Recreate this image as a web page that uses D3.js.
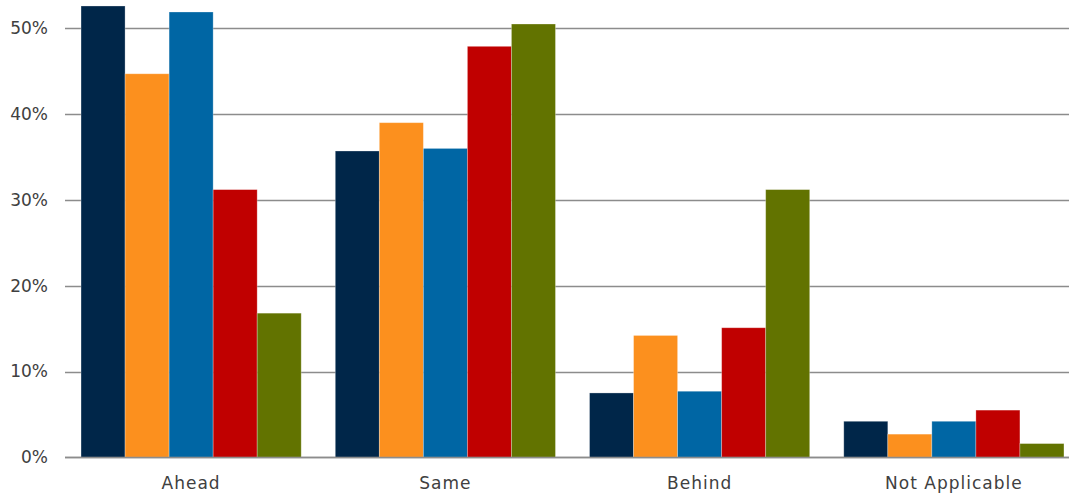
<!DOCTYPE html>
<html>
<head>
<meta charset="utf-8">
<script src="https://cdn.jsdelivr.net/npm/d3@7"></script>
<style>
  html, body { margin: 0; padding: 0; background: #fff; }
  svg { display: block; }
  text { font-family: "DejaVu Sans", sans-serif; }
</style>
</head>
<body>
<svg id="chart" width="1069" height="496"></svg>
<script>
const categories = ["Ahead", "Same", "Behind", "Not Applicable"];
const seriesNames = ["S1", "S2", "S3", "S4", "S5"];
const seriesColors = ["#002649", "#FC901E", "#0066A4", "#C00000", "#627300"];
const s1 = [52.6, 35.7, 7.5, 4.2];
const s2 = [44.7, 39.0, 14.2, 2.7];
const s3 = [51.9, 36.0, 7.7, 4.2];
const s4 = [31.2, 47.9, 15.1, 5.5];
const s5 = [16.8, 50.5, 31.2, 1.6];
const seriesValues = [s1, s2, s3, s4, s5];
const yTicks = [0, 10, 20, 30, 40, 50];

const svg = d3.select("#chart");
const W = 1069, H = 496;
const y0 = 457.3, y50 = 28.3;

const x0 = d3.scaleBand().domain(categories).range([64, 1081]).paddingInner(0.134).paddingOuter(0.067);
const x1 = d3.scaleBand().domain(seriesNames).range([0, x0.bandwidth()]).padding(0);
const y = d3.scaleLinear().domain([0, 50]).range([y0, y50]);

// gridlines
svg.append("g").selectAll("line").data(yTicks).join("line")
  .attr("x1", 65).attr("x2", W)
  .attr("y1", d => Math.round(y(d)) + 0.5).attr("y2", d => Math.round(y(d)) + 0.5)
  .attr("stroke", "#8c8c8c").attr("stroke-width", 1.5);

// y axis labels
const yAxis = d3.axisLeft(y).tickValues(yTicks).tickFormat(d => d + "%").tickSize(0).tickPadding(0);
const ga = svg.append("g").attr("transform", "translate(48,0)").call(yAxis);
ga.select(".domain").remove();
ga.selectAll("text").attr("font-size", 17).attr("fill", "#404040")
  .style("font-family", '"DejaVu Sans", sans-serif');

// bars
const groups = svg.append("g").selectAll("g").data(categories).join("g")
  .attr("transform", c => `translate(${x0(c)},0)`);
groups.selectAll("rect").data((c, ci) => seriesNames.map((s, si) => ({s, si, v: seriesValues[si][ci]})))
  .join("rect")
  .attr("x", d => x1(d.s))
  .attr("width", x1.bandwidth())
  .attr("y", d => y(d.v))
  .attr("height", d => y0 - y(d.v))
  .attr("fill", d => seriesColors[d.si])
  .attr("stroke", "#ffffff").attr("stroke-opacity", 0.35).attr("stroke-width", 0.8);

// baseline
svg.append("line").attr("x1", 65).attr("x2", W).attr("y1", 457.5).attr("y2", 457.5)
  .attr("stroke", "#8c8c8c").attr("stroke-width", 1.5);

// x axis labels
const xAxis = d3.axisBottom(x0).tickSize(0).tickPadding(0);
const gx = svg.append("g").attr("transform", "translate(0,477)").call(xAxis);
gx.select(".domain").remove();
gx.selectAll("text").attr("font-size", 17).attr("fill", "#404040").attr("dy", "0.71em")
  .attr("letter-spacing", 1)
  .style("font-family", '"DejaVu Sans", sans-serif');
</script>
</body>
</html>
